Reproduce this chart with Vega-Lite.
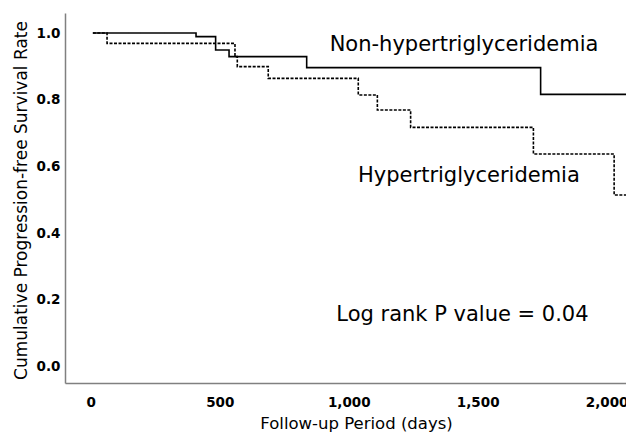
{
  "$schema": "https://vega.github.io/schema/vega-lite/v6.json",
  "autosize": "none",
  "width": 561,
  "height": 370,
  "padding": {"left": 65, "top": 13, "right": 0, "bottom": 49},
  "background": "white",
  "config": {"view": {"stroke": null}},
  "datasets": {
    "curves": [
      {"group": "Non-hypertriglyceridemia", "days": 8, "rate": 1.0},
      {"group": "Non-hypertriglyceridemia", "days": 408, "rate": 0.989},
      {"group": "Non-hypertriglyceridemia", "days": 484, "rate": 0.949},
      {"group": "Non-hypertriglyceridemia", "days": 536, "rate": 0.929},
      {"group": "Non-hypertriglyceridemia", "days": 837, "rate": 0.896},
      {"group": "Non-hypertriglyceridemia", "days": 1744, "rate": 0.816},
      {"group": "Non-hypertriglyceridemia", "days": 2075, "rate": 0.816},
      {"group": "Hypertriglyceridemia", "days": 8, "rate": 1.0},
      {"group": "Hypertriglyceridemia", "days": 63, "rate": 0.969},
      {"group": "Hypertriglyceridemia", "days": 559, "rate": 0.929},
      {"group": "Hypertriglyceridemia", "days": 568, "rate": 0.899},
      {"group": "Hypertriglyceridemia", "days": 688, "rate": 0.864},
      {"group": "Hypertriglyceridemia", "days": 1037, "rate": 0.814},
      {"group": "Hypertriglyceridemia", "days": 1111, "rate": 0.769},
      {"group": "Hypertriglyceridemia", "days": 1240, "rate": 0.717},
      {"group": "Hypertriglyceridemia", "days": 1716, "rate": 0.637},
      {"group": "Hypertriglyceridemia", "days": 2029, "rate": 0.514},
      {"group": "Hypertriglyceridemia", "days": 2075, "rate": 0.514}
    ],
    "notes": [
      {"text": "Non-hypertriglyceridemia", "days": 1447, "rate": 0.945},
      {"text": "Hypertriglyceridemia", "days": 1466, "rate": 0.553},
      {"text": "Log rank P value = 0.04", "days": 1441, "rate": 0.136}
    ]
  },
  "layer": [
    {
      "data": {"name": "curves"},
      "mark": {"type": "line", "interpolate": "step-after", "clip": true, "color": "black", "strokeWidth": 1.6},
      "encoding": {
        "x": {
          "field": "days", "type": "quantitative",
          "scale": {"domain": [-100, 2075], "nice": false, "zero": false},
          "axis": {
            "title": "Follow-up Period (days)",
            "values": [0, 500, 1000, 1500, 2000],
            "format": ",.0f",
            "grid": false, "ticks": false,
            "domainColor": "#808080", "domainWidth": 1.5,
            "labelFont": "DejaVu Sans", "labelFontWeight": "bold", "labelFontSize": 13.5, "labelColor": "black",
            "labelPadding": 12, "labelFlush": false, "labelOverlap": false,
            "titleFont": "DejaVu Sans", "titleFontWeight": "normal", "titleFontSize": 16.5, "titleColor": "black",
            "titleX": 291, "titleY": 45, "titleBaseline": "alphabetic", "titleAnchor": "middle"
          }
        },
        "y": {
          "field": "rate", "type": "quantitative",
          "scale": {"domain": [-0.05, 1.06], "nice": false, "zero": false},
          "axis": {
            "title": "Cumulative Progression-free Survival Rate",
            "values": [0, 0.2, 0.4, 0.6, 0.8, 1.0],
            "format": ".1f",
            "grid": false, "ticks": false,
            "domainColor": "#808080", "domainWidth": 1.5,
            "labelFont": "DejaVu Sans", "labelFontWeight": "bold", "labelFontSize": 13.5, "labelColor": "black",
            "labelPadding": 5, "labelFlush": false, "labelOverlap": false,
            "titleFont": "DejaVu Sans", "titleFontWeight": "normal", "titleFontSize": 17, "titleColor": "black",
            "titleX": -39, "titleY": 187, "titleBaseline": "alphabetic", "titleAngle": -90, "titleAnchor": "middle"
          }
        },
        "strokeDash": {
          "field": "group", "type": "nominal",
          "scale": {"domain": ["Non-hypertriglyceridemia", "Hypertriglyceridemia"], "range": [[1, 0], [3, 1.5]]},
          "legend": null
        }
      }
    },
    {
      "data": {"name": "notes"},
      "mark": {"type": "text", "font": "DejaVu Sans", "fontSize": 21, "color": "black", "align": "center", "baseline": "alphabetic"},
      "encoding": {
        "x": {"field": "days", "type": "quantitative"},
        "y": {"field": "rate", "type": "quantitative"},
        "text": {"field": "text"}
      }
    }
  ]
}
